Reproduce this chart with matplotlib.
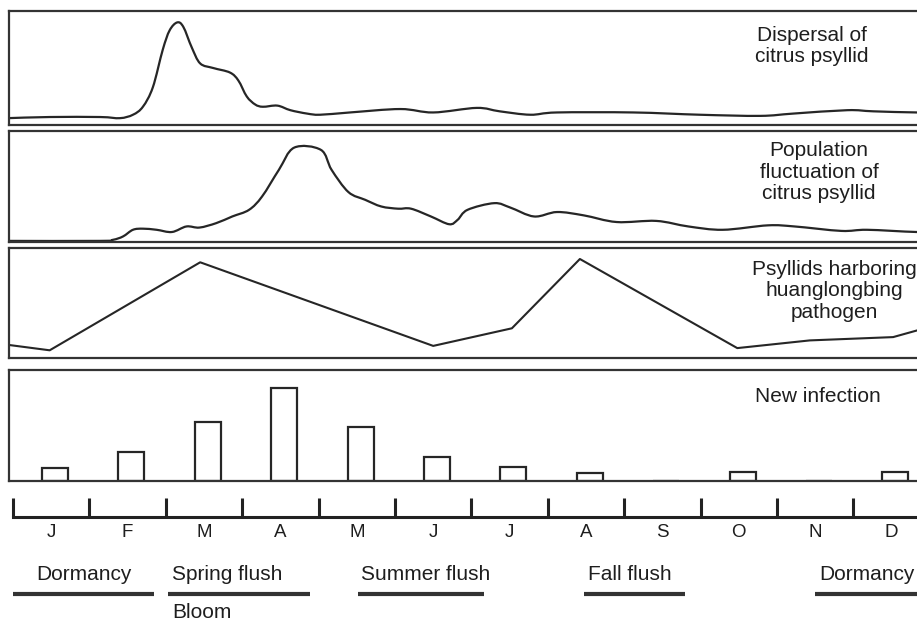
import numpy as np
import matplotlib
matplotlib.use('Agg')
from matplotlib import pyplot as plt
from matplotlib.path import Path
from matplotlib.patches import PathPatch

plt.rcParams['font.family'] = ['Liberation Sans', 'DejaVu Sans']

# x values are in months counted from 1 January, y values relative to panel height
months = ['J', 'F', 'M', 'A', 'M', 'J', 'J', 'A', 'S', 'O', 'N', 'D']

disp_x = [-0.07, 0.48, 1.14, 1.40, 1.57, 1.70, 1.83, 1.96, 2.05, 2.15, 2.23, 2.34, 2.45,
          2.62, 2.84, 2.95, 3.06, 3.17, 3.27, 3.46, 3.63, 3.85, 4.02, 4.41, 5.07, 5.50,
          6.07, 6.37, 6.77, 7.12, 8.12, 8.99, 9.78, 10.21, 10.92, 11.26, 11.83, 12.3]
disp_y = [0.06, 0.07, 0.07, 0.06, 0.09, 0.16, 0.33, 0.66, 0.83, 0.90, 0.86, 0.68, 0.54,
          0.50, 0.46, 0.39, 0.25, 0.18, 0.16, 0.17, 0.13, 0.10, 0.09, 0.11, 0.14, 0.11,
          0.15, 0.12, 0.09, 0.11, 0.11, 0.09, 0.08, 0.10, 0.13, 0.12, 0.11, 0.11]

pop_x = [-0.07, 1.14, 1.31, 1.44, 1.57, 1.70, 1.88, 2.08, 2.27, 2.44, 2.66, 2.87, 3.09,
         3.26, 3.48, 3.68, 4.03, 4.17, 4.39, 4.61, 4.82, 5.04, 5.21, 5.47, 5.71, 5.82,
         5.95, 6.30, 6.51, 6.82, 7.12, 7.47, 7.90, 8.42, 8.84, 9.29, 9.88, 10.23, 10.84,
         11.18, 11.83, 12.3]
pop_y = [0.01, 0.01, 0.02, 0.05, 0.11, 0.12, 0.11, 0.09, 0.14, 0.13, 0.17, 0.23, 0.29,
         0.41, 0.65, 0.85, 0.83, 0.65, 0.45, 0.38, 0.32, 0.30, 0.30, 0.23, 0.16, 0.20,
         0.29, 0.35, 0.31, 0.23, 0.27, 0.24, 0.18, 0.19, 0.14, 0.11, 0.15, 0.14, 0.10,
         0.11, 0.09, 0.09]

hlb_x = [-0.07, 0.48, 2.45, 5.50, 6.53, 7.42, 9.48, 10.43, 11.52, 11.83, 12.3]
hlb_y = [0.12, 0.07, 0.87, 0.11, 0.27, 0.90, 0.09, 0.16, 0.19, 0.25, 0.32]

infection = [0.12, 0.26, 0.53, 0.84, 0.49, 0.22, 0.13, 0.07, 0.0, 0.08, 0.0, 0.08]

seasons = ['Dormancy', 'Spring flush', 'Summer flush', 'Fall flush', 'Dormancy']
season_start = [0.0, 2.03, 4.51, 7.47, 10.5]
season_end = [1.85, 3.89, 6.17, 8.80, 12.3]

titles = ['Dispersal of\ncitrus psyllid',
          'Population\nfluctuation of\ncitrus psyllid',
          'Psyllids harboring\nhuanglongbing\npathogen',
          'New infection']

W, H = 917, 626
ink = '#262626'
txt_color = '#1e1e1e'
fig = plt.figure(figsize=(W / 100, H / 100), dpi=100)
fig.patch.set_facecolor('white')

# pixel -> month mapping of the original: month = (px - 13) / 76.4
left_px, right_px = 9, 955
xlim = ((left_px - 13) / 76.4, (right_px - 13) / 76.4)

def add_px_axes(top, bottom):
    return fig.add_axes([left_px / W, 1 - bottom / H, (right_px - left_px) / W, (bottom - top) / H])

def style_panel(ax):
    ax.set_xlim(*xlim)
    ax.set_ylim(0, 1)
    ax.set_xticks([])
    ax.set_yticks([])
    for s in ax.spines.values():
        s.set_linewidth(1.6)
        s.set_color('#333333')

def smooth_curve(ax, x, y, **kw):
    """ Draw a smooth curve through the points (Catmull-Rom as cubic Bezier) """
    p = np.column_stack([x, y])
    p_ext = np.vstack([p[0], p, p[-1]])
    verts = [p[0]]
    codes = [Path.MOVETO]
    for i in range(1, len(p_ext) - 2):
        p0, p1, p2, p3 = p_ext[i - 1], p_ext[i], p_ext[i + 1], p_ext[i + 2]
        verts += [p1 + (p2 - p0) / 6, p2 - (p3 - p1) / 6, p2]
        codes += [Path.CURVE4] * 3
    ax.add_patch(PathPatch(Path(verts, codes), fill=False, **kw))

panels = [(11, 125), (131, 242), (248, 358), (370, 481)]
axes = [add_px_axes(t, b) for t, b in panels]
for ax in axes:
    style_panel(ax)

smooth_curve(axes[0], disp_x, disp_y, edgecolor=ink, lw=1.6)
smooth_curve(axes[1], pop_x, pop_y, edgecolor=ink, lw=1.6)
axes[2].plot(hlb_x, hlb_y, color=ink, lw=1.5)
bar_x = [i + 0.55 for i in range(len(months))]
axes[3].bar(bar_x, infection, width=0.34, facecolor='white', edgecolor=ink, linewidth=1.6)

# panel captions: (month position, height in panel)
cap_pos = [(10.46, 0.69), (10.55, 0.63), (10.75, 0.61), (10.54, 0.76)]
for ax, txt, (cx, cy) in zip(axes, titles, cap_pos):
    ax.text(cx, cy, txt, transform=ax.get_xaxis_transform(), ha='center', va='center',
            multialignment='center', fontsize=15, color=txt_color, linespacing=1.14)

# month axis
ax_m = add_px_axes(487, 517)
ax_m.set_xlim(*xlim)
ax_m.set_ylim(0, 1)
ax_m.patch.set_alpha(0)
for side in ['top', 'left', 'right']:
    ax_m.spines[side].set_visible(False)
ax_m.spines['bottom'].set_linewidth(2.2)
ax_m.spines['bottom'].set_color('#222222')
ax_m.spines['bottom'].set_bounds(0, xlim[1])
ax_m.set_yticks([])
ax_m.set_xticks(range(13))
ax_m.set_xticklabels([])
ax_m.tick_params(axis='x', which='major', direction='in', length=14, width=2.2, color='#222222')
ax_m.set_xticks([i + 0.5 for i in range(12)], minor=True)
ax_m.set_xticklabels(months, minor=True, fontsize=13.5, color=txt_color)
ax_m.tick_params(axis='x', which='minor', length=0, pad=5)

# growth stages
ax_s = add_px_axes(555, 626)
ax_s.set_xlim(*xlim)
ax_s.set_ylim(626, 555)
ax_s.axis('off')
for i, (name, a, b) in enumerate(zip(seasons, season_start, season_end)):
    ax_s.plot([a, b], [594, 594], color='#333333', lw=3.0, solid_capstyle='butt', clip_on=False)
    if i == 0:
        ax_s.text((a + b) / 2, 575, name, ha='center', va='center', fontsize=15, color=txt_color)
    else:
        ax_s.text(a + 0.05, 575, name, ha='left', va='center', fontsize=15, color=txt_color)
ax_s.text(season_start[1] + 0.06, 613, 'Bloom', ha='left', va='center', fontsize=15, color=txt_color)

fig.savefig('out.png', dpi=100, facecolor='white')
